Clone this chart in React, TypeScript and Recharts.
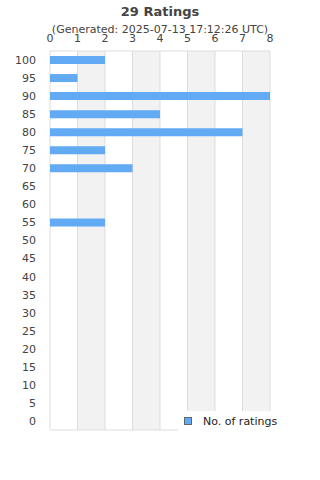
import { Bar, BarChart, CartesianGrid, XAxis, YAxis } from 'recharts'

const scores = ['100', '95', '90', '85', '80', '75', '70', '65', '60', '55', '50', '45', '40', '35', '30', '25', '20', '15', '10', '5', '0']
const counts = [2, 1, 8, 4, 7, 2, 3, 0, 0, 2, 0, 0, 0, 0, 0, 0, 0, 0, 0, 0, 0]
const xTicks = [0, 1, 2, 3, 4, 5, 6, 7, 8]

const data = scores.map((score, i) => ({ score, value: counts[i] }))

const font = '"DejaVu Sans", Verdana, sans-serif'
const textColor = '#444444'
const barColor = '#62aaf4'

export default function App() {
  return (
    <div style={{ position: 'absolute', left: 0, top: 0, width: 320, height: 480, background: '#fff', fontFamily: font }}>
      <div style={{ position: 'absolute', top: 4, width: 320, textAlign: 'center', fontSize: 13, fontWeight: 'bold', color: textColor }}>
        29 Ratings
      </div>
      <div style={{ position: 'absolute', top: 23, width: 320, textAlign: 'center', fontSize: 11, color: textColor }}>
        (Generated: 2025-07-13 17:12:26 UTC)
      </div>
      <BarChart
        width={320}
        height={480}
        data={data}
        layout="vertical"
        margin={{ top: 39, right: 50, bottom: 50, left: 0 }}
        style={{ position: 'absolute', left: 0, top: 0 }}
      >
        <CartesianGrid
          stroke="#dddddd"
          vertical
          horizontal
          verticalFill={['#ffffff', '#f2f2f2']}
          horizontalCoordinatesGenerator={({ offset }: any) => [offset.top, offset.top + offset.height]}
        />
        <XAxis
          type="number"
          orientation="top"
          domain={[0, 8]}
          ticks={xTicks}
          interval={0}
          height={12}
          axisLine={false}
          tickLine={false}
          tickMargin={3}
          tick={{ fill: textColor, fontSize: 11, fontFamily: font }}
        />
        <YAxis
          type="category"
          dataKey="score"
          width={50}
          interval={0}
          axisLine={false}
          tickLine={false}
          tickMargin={8}
          tick={{ fill: textColor, fontSize: 11, fontFamily: font }}
        />
        <Bar dataKey="value" fill={barColor} barSize={8} isAnimationActive={false} />
      </BarChart>
      <div
        style={{
          position: 'absolute',
          left: 178,
          top: 411,
          width: 142,
          height: 20,
          display: 'flex',
          alignItems: 'center',
          background: '#fff',
          paddingLeft: 6,
          boxSizing: 'border-box',
          fontSize: 11,
          color: '#222',
        }}
      >
        <span style={{ display: 'inline-block', width: 6, height: 6, background: barColor, border: '1px solid #666', marginRight: 11 }} />
        No. of ratings
      </div>
    </div>
  )
}
